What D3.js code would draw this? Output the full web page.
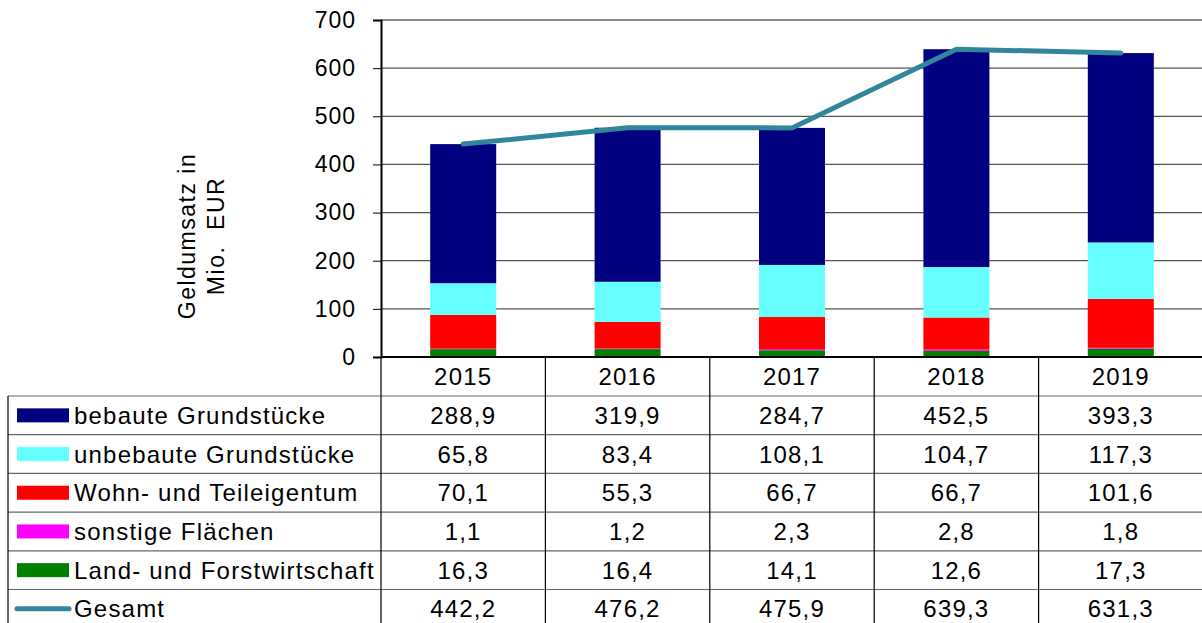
<!DOCTYPE html>
<html>
<head>
<meta charset="utf-8">
<script src="https://cdn.jsdelivr.net/npm/d3@7"></script>
<style>
  body { margin: 0; background: #fff; }
  #chart { width: 1202px; height: 623px; }
  text { font-family: "Liberation Sans", Arial, sans-serif; fill: #000; }
</style>
</head>
<body>
<div id="chart"></div>
<script>
(function () {
   // years along the x axis
   const years = ['2015', '2016', '2017', '2018', '2019'];

   // stacked series, bottom to top
   const landForst = [16.3, 16.4, 14.1, 12.6, 17.3];
   const sonstige = [1.1, 1.2, 2.3, 2.8, 1.8];
   const wohnTeil = [70.1, 55.3, 66.7, 66.7, 101.6];
   const unbebaute = [65.8, 83.4, 108.1, 104.7, 117.3];
   const bebaute = [288.9, 319.9, 284.7, 452.5, 393.3];
   const gesamt = [442.2, 476.2, 475.9, 639.3, 631.3];

   const yTicks = [0, 100, 200, 300, 400, 500, 600, 700];

   // series for the bars (bottom first) and rows of the table (top first)
   const stackSeries = [
      { name: 'Land- und Forstwirtschaft', values: landForst, color: '#008000' },
      { name: 'sonstige Flächen', values: sonstige, color: '#ff00ff' },
      { name: 'Wohn- und Teileigentum', values: wohnTeil, color: '#ff0000' },
      { name: 'unbebaute Grundstücke', values: unbebaute, color: '#66ffff' },
      { name: 'bebaute Grundstücke', values: bebaute, color: '#000080' }
   ];
   const lineColor = '#31869b';

   const width = 1202;
   const height = 623;
   const fontSize = '24px';
   const spacing = '1.2px';

   const svg = d3.select('#chart')
      .append('svg')
      .attr('width', width)
      .attr('height', height);

   // plot area
   const left = 381, right = 1203, top = 20, bottom = 357;

   const x = d3.scaleBand()
      .domain(years)
      .range([left, right]);

   const y = d3.scaleLinear()
      .domain([0, 700])
      .range([bottom, top]);

   // grid lines
   svg.append('g')
      .selectAll('line')
      .data(yTicks.filter(d => d > 0 && d < 700))
      .join('line')
      .attr('x1', left).attr('x2', right)
      .attr('y1', d => y(d)).attr('y2', d => y(d))
      .attr('stroke', '#555')
      .attr('stroke-width', 1.2);

   // top border
   svg.append('line')
      .attr('x1', left).attr('x2', right)
      .attr('y1', y(700)).attr('y2', y(700))
      .attr('stroke', '#888')
      .attr('stroke-width', 2);

   // y axis
   const yAxis = d3.axisLeft(y)
      .tickValues(yTicks)
      .tickSize(8)
      .tickPadding(8)
      .tickFormat(d3.format('d'));

   const yAxisG = svg.append('g')
      .attr('transform', `translate(${left},0)`)
      .call(yAxis);
   yAxisG.select('.domain').attr('stroke', '#000').attr('stroke-width', 2);
   yAxisG.selectAll('.tick line').attr('stroke', '#000');
   yAxisG.selectAll('.tick text')
      .style('font-size', '23px')
      .style('letter-spacing', '1px')
      .style('font-family', '"Liberation Sans", Arial, sans-serif')
      .attr('fill', '#000')
      .attr('dx', '-9');

   // y axis title
   const yTitle = svg.append('text')
      .attr('transform', 'translate(201,236) rotate(-90)')
      .attr('text-anchor', 'middle')
      .style('font-size', '23px')
      .style('letter-spacing', '1.5px');
   yTitle.append('tspan').attr('x', 0).attr('dy', '-0.25em').text('Geldumsatz in');
   yTitle.append('tspan').attr('x', 0).attr('dy', '1.25em').text('Mio.  EUR').style('white-space', 'pre');

   // stacked bars
   const barW = 66;
   const stackData = years.map((yr, i) => {
      const row = { year: yr };
      stackSeries.forEach(s => { row[s.name] = s.values[i]; });
      return row;
   });
   const stacked = d3.stack().keys(stackSeries.map(s => s.name))(stackData);

   svg.append('g')
      .selectAll('g')
      .data(stacked)
      .join('g')
      .attr('fill', (d, i) => stackSeries[i].color)
      .selectAll('rect')
      .data(d => d)
      .join('rect')
      .attr('x', d => x(d.data.year) + x.bandwidth() / 2 - barW / 2)
      .attr('width', barW)
      .attr('y', d => y(d[1]))
      .attr('height', d => y(d[0]) - y(d[1]));

   // total line
   const line = d3.line()
      .x((d, i) => x(years[i]) + x.bandwidth() / 2)
      .y(d => y(d));

   svg.append('path')
      .datum(gesamt)
      .attr('d', line)
      .attr('fill', 'none')
      .attr('stroke', lineColor)
      .attr('stroke-width', 5)
      .attr('stroke-linecap', 'round')
      .attr('stroke-linejoin', 'round');

   // data table
   const tableLeft = 8;
   const headerBottom = 396;
   const rowH = 38.7;
   const rows = stackSeries.slice().reverse()
      .map(s => ({ name: s.name, values: s.values, color: s.color, type: 'bar' }))
      .concat([{ name: 'Gesamt', values: gesamt, color: lineColor, type: 'line' }]);

   const table = svg.append('g');

   // horizontal row lines
   table.selectAll('line.h')
      .data(d3.range(rows.length + 1))
      .join('line')
      .attr('class', 'h')
      .attr('x1', tableLeft).attr('x2', right)
      .attr('y1', i => headerBottom + i * rowH)
      .attr('y2', i => headerBottom + i * rowH)
      .attr('stroke', '#666')
      .attr('stroke-width', 1.2);

   // vertical column lines
   table.selectAll('line.v')
      .data(years.map(yr => x(yr)))
      .join('line')
      .attr('class', 'v')
      .attr('x1', d => d).attr('x2', d => d)
      .attr('y1', bottom).attr('y2', height)
      .attr('stroke', '#000')
      .attr('stroke-width', 1.2);

   table.append('line')
      .attr('x1', tableLeft).attr('x2', tableLeft)
      .attr('y1', headerBottom).attr('y2', height)
      .attr('stroke', '#000')
      .attr('stroke-width', 1.2);

   // x axis line
   svg.append('line')
      .attr('x1', left).attr('x2', right)
      .attr('y1', bottom).attr('y2', bottom)
      .attr('stroke', '#000')
      .attr('stroke-width', 2);

   // year headers
   table.selectAll('text.year')
      .data(years)
      .join('text')
      .attr('class', 'year')
      .attr('x', d => x(d) + x.bandwidth() / 2)
      .attr('y', (bottom + headerBottom) / 2 + 8.5)
      .attr('text-anchor', 'middle')
      .style('font-size', fontSize)
      .style('letter-spacing', spacing)
      .text(d => d);

   const fmt = v => d3.format('.1f')(v).replace('.', ',');

   const rowG = table.selectAll('g.row')
      .data(rows)
      .join('g')
      .attr('class', 'row')
      .attr('transform', (d, i) => `translate(0,${headerBottom + i * rowH + rowH / 2})`);

   // legend keys
   rowG.filter(d => d.type === 'bar')
      .append('rect')
      .attr('x', 17).attr('y', -7)
      .attr('width', 52).attr('height', 14)
      .attr('fill', d => d.color);

   rowG.filter(d => d.type === 'line')
      .append('line')
      .attr('x1', 17).attr('x2', 69)
      .attr('y1', 0).attr('y2', 0)
      .attr('stroke', d => d.color)
      .attr('stroke-width', 5)
      .attr('stroke-linecap', 'round');

   rowG.append('text')
      .attr('x', 74).attr('y', 8.5)
      .style('font-size', fontSize)
      .style('letter-spacing', spacing)
      .text(d => d.name);

   rowG.selectAll('text.val')
      .data(d => d.values)
      .join('text')
      .attr('class', 'val')
      .attr('x', (d, i) => x(years[i]) + x.bandwidth() / 2)
      .attr('y', 8.5)
      .attr('text-anchor', 'middle')
      .style('font-size', fontSize)
      .style('letter-spacing', spacing)
      .text(d => fmt(d));
})();
</script>
</body>
</html>
